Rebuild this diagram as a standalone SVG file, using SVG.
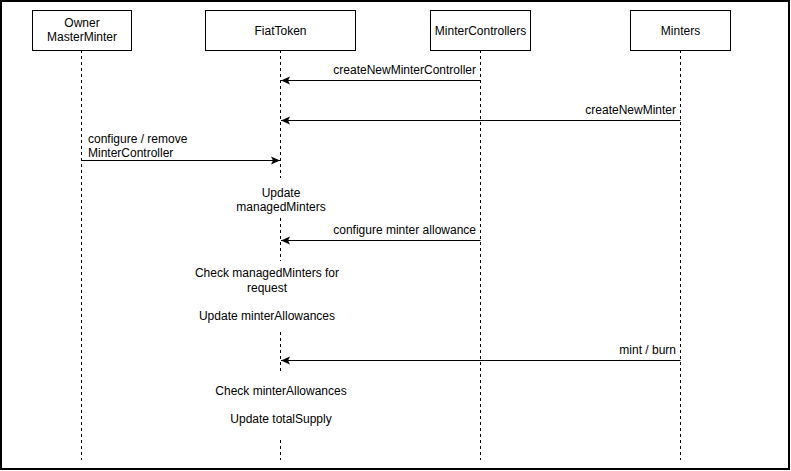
<svg xmlns="http://www.w3.org/2000/svg" width="791" height="471" viewBox="0 0 791 471">
<defs>
<marker id="arr" markerUnits="userSpaceOnUse" markerWidth="12" markerHeight="10" viewBox="0 0 12 10" refX="10" refY="5" orient="auto">
<path d="M1,1 L10,5 L1,9 L3,5 Z" fill="#000"/>
</marker>
</defs>
<style>
text{font-family:"Liberation Sans",Arial,Helvetica,sans-serif;font-size:12px;fill:#000}
.box{fill:#fff;stroke:#000;stroke-width:1}
.life{stroke:#000;stroke-width:1;stroke-dasharray:3 3;fill:none}
.msg{stroke:#000;stroke-width:1;fill:none;marker-end:url(#arr)}
.mid{text-anchor:middle}
.end{text-anchor:end}
.bg{fill:#fff;stroke:none}
</style>
<rect x="0" y="0" width="791" height="471" fill="#fff"/>
<rect x="1" y="1" width="788" height="468" fill="none" stroke="#000" stroke-width="2"/>

<g id="lifelines">
<line class="life" x1="81.5" y1="50" x2="81.5" y2="460"/>
<line class="life" x1="280.5" y1="50" x2="280.5" y2="460"/>
<line class="life" x1="480.5" y1="50" x2="480.5" y2="460"/>
<line class="life" x1="680.5" y1="50" x2="680.5" y2="460"/>
</g>

<g id="owner">
<rect class="box" x="32.5" y="10.5" width="99" height="40"/>
<text class="mid" x="82" y="27">Owner</text>
<text class="mid" x="82" y="41">MasterMinter</text>
</g>
<g id="fiattoken">
<rect class="box" x="205.5" y="10.5" width="150" height="40"/>
<text class="mid" x="280.5" y="35">FiatToken</text>
</g>
<g id="mintercontrollers">
<rect class="box" x="430.5" y="10.5" width="100" height="40"/>
<text class="mid" x="480.5" y="35">MinterControllers</text>
</g>
<g id="minters">
<rect class="box" x="630.5" y="10.5" width="100" height="40"/>
<text class="mid" x="680.5" y="35">Minters</text>
</g>

<g id="connectors">
<line class="msg" x1="480.5" y1="80.5" x2="281" y2="80.5"/>
<text class="end" x="476" y="74">createNewMinterController</text>
<line class="msg" x1="680.5" y1="120.5" x2="281" y2="120.5"/>
<text class="end" x="676" y="114">createNewMinter</text>
<line class="msg" x1="81.5" y1="160.5" x2="280" y2="160.5"/>
<text x="88" y="143">configure / remove</text>
<text x="88" y="157">MinterController</text>
<line class="msg" x1="480.5" y1="240.5" x2="281" y2="240.5"/>
<text class="end" x="476" y="234">configure minter allowance</text>
<line class="msg" x1="680.5" y1="360.5" x2="281" y2="360.5"/>
<text class="end" x="676" y="354">mint / burn</text>
</g>

<g id="note-update-managed">
<rect class="bg" x="225" y="178" width="110" height="40"/>
<text class="mid" x="281" y="197">Update</text>
<text class="mid" x="281" y="211">managedMinters</text>
</g>
<g id="note-check-managed">
<rect class="bg" x="190" y="261" width="155" height="71"/>
<text class="mid" x="267" y="277">Check managedMinters for</text>
<text class="mid" x="267" y="292">request</text>
<text class="mid" x="267" y="320">Update minterAllowances</text>
</g>
<g id="note-check-allowances">
<rect class="bg" x="210" y="371" width="140" height="68"/>
<text class="mid" x="281" y="395">Check minterAllowances</text>
<text class="mid" x="281" y="423">Update totalSupply</text>
</g>
</svg>
